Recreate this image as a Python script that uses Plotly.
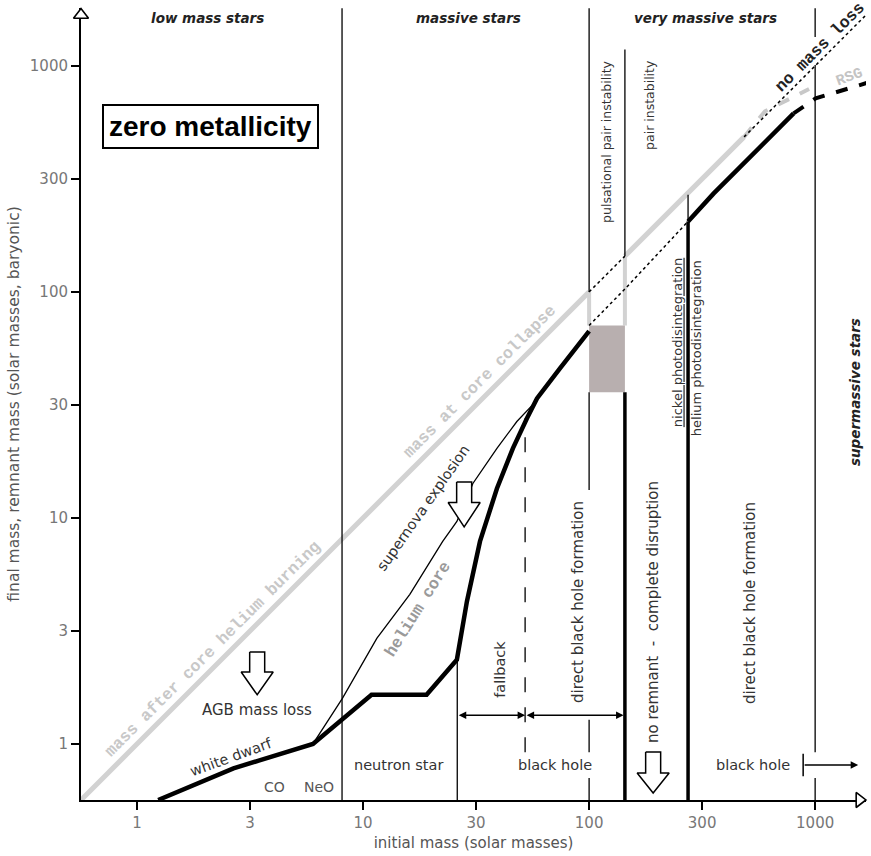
import numpy as np
import plotly.graph_objects as go

# ---------------- data ----------------
TICK_VALS = [1, 3.162, 10, 31.62, 100, 316.2, 1000]
X_TICK_TEXT = ["1", "3", "10", "30", "100", "300", "1000"]
Y_TICK_TEXT = ["1", "3", "10", "30", "100", "300", "1000"]

# remnant mass (thick black) up to the pair-instability gap
REM_LO_X = [1.24, 2.67, 6.0, 8.1, 10.9, 19.1, 26.0, 28.8, 32.9, 39.1, 46.0, 53.1, 58.8, 74.3, 100]
REM_LO_Y = [0.565, 0.78, 1.0, 1.28, 1.65, 1.65, 2.36, 4.27, 7.87, 13.5, 20.3, 27.6, 33.8, 45.9, 67]
# helium core (thin black)
HE_X = [6.0, 8.1, 11.5, 16.1, 22.5, 26.0, 30.6, 39.1, 47.9, 56.5]
HE_Y = [1.0, 1.59, 2.93, 4.59, 7.87, 9.65, 14.2, 20.3, 26.7, 31.8]
# helium core across the pair-instability range (dotted)
HE_HI_X = [100, 144, 274]
HE_HI_Y = [71, 103, 205]
# remnant above photodisintegration (thick), then dashed for supermassive
REM_HI_X = [274, 355, 803]
REM_HI_Y = [205, 272, 616]
REM_SM_X = [803, 1005, 1780]
REM_SM_Y = [616, 718, 853]
# mass after core helium burning / at core collapse (gray, = initial mass)
CORE_X1 = [0.565, 100]
CORE_X2 = [144, 485]
NOLOSS_X1 = [100, 144]
NOLOSS_X2 = [485, 1800]
RSG_X = [485, 600, 940]
RSG_Y = [485, 630, 790]
# pulsational pair-instability remnant range (shaded box)
GAP_X = [100, 144]
GAP_Y = [36, 71]

# boundary lines: (initial mass, y from, y to)
THIN_V = [(8.07, 0.565, 1800), (26.1, 0.565, 2.36),
          (100, 100, 1800), (100, 13.3, 36), (100, 0.92, 1.28), (100, 0.565, 0.707),
          (144, 144, 1180), (274, 205, 269),
          (1000, 1343, 1800), (1000, 0.92, 1010), (1000, 0.565, 0.707)]
GRAY_V = [(100, 71, 100), (144, 71, 144)]
THICK_V = [(144, 0.565, 36), (274, 0.565, 205)]
DASH_V = [(52.1, 0.92, 27.6)]

# range arrows (fallback / direct black hole formation) and black hole arrow
FB_Y = 1.34
FB_RANGES = [(26.1, 52.1), (52.1, 142)]
BH_Y = 0.807
BH_RANGE = (885, 1550)

# hollow block arrows: (centre mass, top, neck, tip)
BLOCK_ARROWS = [(3.40, 2.55, 2.08, 1.65), (28.0, 14.4, 11.7, 9.12), (192, 0.922, 0.744, 0.607)]

SANS = "DejaVu Sans"
MONO = "Liberation Mono"
L = np.log10

fig = go.Figure()


def line(xs, ys, color="black", width=1.2, dash="solid"):
    fig.add_trace(go.Scatter(x=xs, y=ys, mode="lines", hoverinfo="skip",
                             line=dict(color=color, width=width, dash=dash)))


def vlines(segs, **kw):
    xs, ys = [], []
    for x, y0, y1 in segs:
        xs += [x, x, None]
        ys += [y0, y1, None]
    line(xs, ys, **kw)


GRAY = "#d2d2d2"
# gray identity lines
line(CORE_X1, CORE_X1, color=GRAY, width=5)
line(CORE_X2, CORE_X2, color=GRAY, width=5)
line(RSG_X, RSG_Y, color="#c8c8c8", width=4, dash="dash")
vlines(GRAY_V, color=GRAY, width=4)

# shaded box
fig.add_trace(go.Scatter(x=[GAP_X[0], GAP_X[1], GAP_X[1], GAP_X[0], GAP_X[0]],
                         y=[GAP_Y[0], GAP_Y[0], GAP_Y[1], GAP_Y[1], GAP_Y[0]],
                         mode="lines", fill="toself", fillcolor="#b8afaf",
                         line=dict(width=0, color="#b8afaf"), hoverinfo="skip"))

# no mass loss dotted
line(NOLOSS_X1, NOLOSS_X1, width=1.5, dash="dot")
line(NOLOSS_X2, NOLOSS_X2, width=1.5, dash="dot")

# boundaries
vlines(THIN_V, width=1.3)
vlines(THICK_V, width=3.5)
vlines(DASH_V, width=1.3, dash="longdash")

# curves
line(HE_X, HE_Y, width=1.3)
line(HE_HI_X, HE_HI_Y, width=1.5, dash="dot")
line(REM_LO_X, REM_LO_Y, width=4.5)
line(REM_HI_X, REM_HI_Y, width=4.5)
line(REM_SM_X, REM_SM_Y, width=4, dash="dash")

# hollow block arrows
for xc, yt, yn, ytip in BLOCK_ARROWS:
    s = 10 ** (7.5 / 226)
    h = 10 ** (16 / 226)
    xs = [xc / s, xc * s, xc * s, xc * h, xc, xc / h, xc / s, xc / s]
    ys = [yt, yt, yn, yn, ytip, yn, yn, yt]
    fig.add_trace(go.Scatter(x=xs, y=ys, mode="lines", fill="toself", fillcolor="white",
                             line=dict(color="black", width=1.5), hoverinfo="skip"))

# black hole cap
fig.add_trace(go.Scatter(x=[BH_RANGE[0]], y=[BH_Y], mode="markers", hoverinfo="skip",
                         marker=dict(symbol="line-ns-open", size=16, color="black",
                                     line=dict(width=1.5, color="black"))))

# axis arrow heads
fig.add_trace(go.Scatter(x=[0.565], y=[1680], mode="markers", hoverinfo="skip", cliponaxis=False,
                         marker=dict(symbol="triangle-up", size=13, color="white",
                                     line=dict(width=1.6, color="black"))))
fig.add_trace(go.Scatter(x=[1570], y=[0.565], mode="markers", hoverinfo="skip", cliponaxis=False,
                         marker=dict(symbol="triangle-right", size=13, color="white",
                                     line=dict(width=1.6, color="black"))))

# range arrows
for x0, x1 in FB_RANGES:
    fig.add_annotation(x=L(x1), y=L(FB_Y), ax=L(x0), ay=L(FB_Y), xref="x", yref="y",
                       axref="x", ayref="y", text="", showarrow=True, arrowhead=2,
                       arrowsize=1, arrowwidth=1.5, arrowside="end+start", startarrowhead=2,
                       startarrowsize=1, standoff=0, startstandoff=0, arrowcolor="black")
fig.add_annotation(x=L(BH_RANGE[1]), y=L(BH_Y), ax=L(BH_RANGE[0]), ay=L(BH_Y), xref="x", yref="y",
                   axref="x", ayref="y", text="", showarrow=True, arrowhead=2, arrowsize=1,
                   arrowwidth=1.5, standoff=0, arrowcolor="black")


def label(text, x, y, size=14.5, angle=0, color="#333333", family=SANS, **kw):
    fig.add_annotation(x=L(x), y=L(y), xref="x", yref="y", text=text, showarrow=False,
                       textangle=angle, xanchor="center", yanchor="middle",
                       font=dict(size=size, color=color, family=family), **kw)


# region titles
label("<b><i>low mass stars</i></b>", 2.04, 1630, size=13.5, color="#222")
label("<b><i>massive stars</i></b>", 29.4, 1630, size=13.5, color="#222")
label("<b><i>very massive stars</i></b>", 326, 1630, size=13.5, color="#222")
label("<b>zero metallicity</b>", 2.12, 540, size=28, color="black", family="Liberation Sans",
      bordercolor="black", borderwidth=2, borderpad=5, bgcolor="white")

# gray mono labels along lines
label("<b>mass after core helium burning</b>", 2.15, 2.63, size=16.5, angle=-45, color="#c8c8c8", family=MONO)
label("<b>mass at core collapse</b>", 32.9, 40, size=16.5, angle=-45, color="#c8c8c8", family=MONO)
label("<b>helium core</b>", 17.5, 3.92, size=16.5, angle=-58, color="#9a9a9a", family=MONO)
label("<b>no mass loss</b>", 1052, 1202, size=16.5, angle=-45, color="#222", family=MONO)
label("<b>RSG</b>", 1420, 890, size=15, angle=-20, color="#c4c4c4", family=MONO)

# other labels
label("AGB mass loss", 3.40, 1.41, size=15)
label("white dwarf", 2.61, 0.876, size=14.5, angle=-20)
label("CO", 4.04, 0.645, size=14, color="#555")
label("NeO", 6.39, 0.645, size=14, color="#555")
label("neutron star", 14.3, 0.807, size=14.5)
label("black hole", 70.8, 0.807, size=14.5)
label("black hole", 532, 0.807, size=14.5)
label("supernova explosion", 18.4, 11.1, size=14.5, angle=-55)

# vertical labels
label("pulsational pair instability", 120, 461, size=12.5, angle=-90)
label("pair instability", 186, 672, size=12.5, angle=-90)
label("<u>nickel photodisintegration</u>", 248, 59.5, size=13, angle=-90)
label("helium photodisintegration", 301, 56.5, size=13, angle=-90)
label("<b><i>supermassive stars</i></b>", 1503, 36.1, size=13.5, angle=-90, color="#222")
label("direct black hole formation", 89.4, 4.25, size=15, angle=-90)
label("fallback", 40.4, 2.13, size=14.5, angle=-90)
label("no remnant  -  complete disruption", 192, 3.84, size=15, angle=-90)
label("direct black hole formation", 516, 4.21, size=15, angle=-90)

axis_common = dict(type="log", showline=True, linecolor="black", linewidth=2, ticks="outside",
                   ticklen=8, tickwidth=2, tickcolor="black", tickvals=TICK_VALS,
                   showgrid=False, zeroline=False, layer="below traces",
                   tickfont=dict(size=15, color="#777", family=SANS))
fig.update_xaxes(range=[-0.248, 3.225], ticktext=X_TICK_TEXT,
                 title=dict(text="initial mass (solar masses)", font=dict(size=15, color="#555", family=SANS),
                            standoff=6), **axis_common)
fig.update_yaxes(range=[-0.248, 3.256], ticktext=Y_TICK_TEXT,
                 title=dict(text="final mass, remnant mass (solar masses, baryonic)",
                            font=dict(size=15.5, color="#555", family=SANS), standoff=6), **axis_common)
fig.update_layout(width=871, height=856, margin=dict(l=81, r=5, t=8, b=56),
                  plot_bgcolor="white", paper_bgcolor="white", showlegend=False,
                  font=dict(family=SANS))

fig.write_html("out.html")
